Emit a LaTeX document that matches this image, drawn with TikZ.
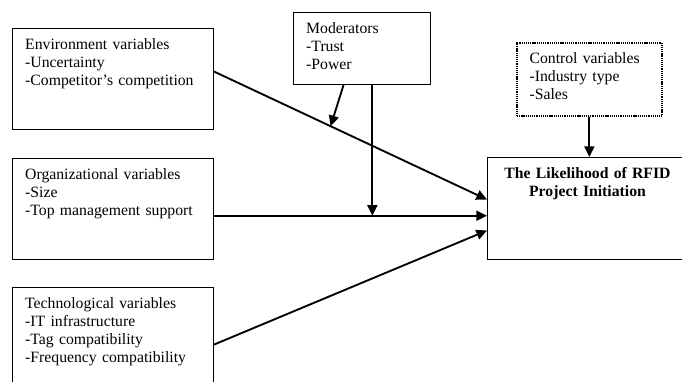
\documentclass[tikz,border=0pt]{standalone}
\usepackage{fontspec}
\setmainfont{Liberation Serif}
\usepackage{tikz}
\usetikzlibrary{arrows.meta,positioning,calc}

\tikzset{
    varbox/.style 2 args={draw, line width=0.8pt, anchor=north west, align=left,
        text width=#1, text height=9.75pt, text depth=#2, inner xsep=9.5pt, inner ysep=6pt,
        font=\fontsize{11.8pt}{13.5pt}\selectfont},
    arr/.style={-{Triangle[length=8pt,width=7.5pt]}, line width=1.4pt}
}

\begin{document}
\begin{tikzpicture}[x=0.75pt, y=-0.75pt]
    \useasboundingbox (0,0) rectangle (682,382);

    % Variable boxes
    \node[varbox={131.75pt}{54pt}] (env) at (12,28) {Environment variables\\-Uncertainty\\-Competitor's competition};
    \node[varbox={131.75pt}{54pt}] (org) at (12,158) {Organizational variables\\-Size\\-Top management support};
    \node[varbox={131.75pt}{54pt}] (tech) at (12,287) {Technological variables\\-IT infrastructure\\-Tag compatibility\\-Frequency compatibility};
    \node[varbox={83.75pt}{32.25pt}] (mod) at (293,12) {Moderators\\-Trust\\-Power};
    \node[varbox={89.75pt}{33pt}, dash pattern=on 0.8pt off 0.6pt, line width=1.3pt] (ctrl) at (516,42) {Control variables\\-Industry type\\-Sales};
    \node[varbox={131pt}{54.75pt}, align=center, font=\fontsize{11.8pt}{13.5pt}\selectfont\bfseries] (lik) at (487,157) {The Likelihood of RFID\\Project Initiation};

    % Main effects
    \draw[arr] ([yshift=5.6pt]env.east) -- ([yshift=6.75pt]lik.west) coordinate[pos=0.427] (m1);
    \draw[arr] ([yshift=-5pt]org.east) -- ([yshift=-5pt]org.east -| lik.west) coordinate[pos=0.58] (m2);
    \draw[arr] ([yshift=-4.9pt]tech.east) -- ([yshift=-16.5pt]lik.west);

    % Moderating effects
    \draw[arr] ([xshift=-13.9pt]mod.south) -- (m1);
    \draw[arr] (m2 |- mod.south) -- (m2);

    % Control
    \draw[arr] (ctrl.south) -- (ctrl.south |- lik.north);
\end{tikzpicture}
\end{document}
